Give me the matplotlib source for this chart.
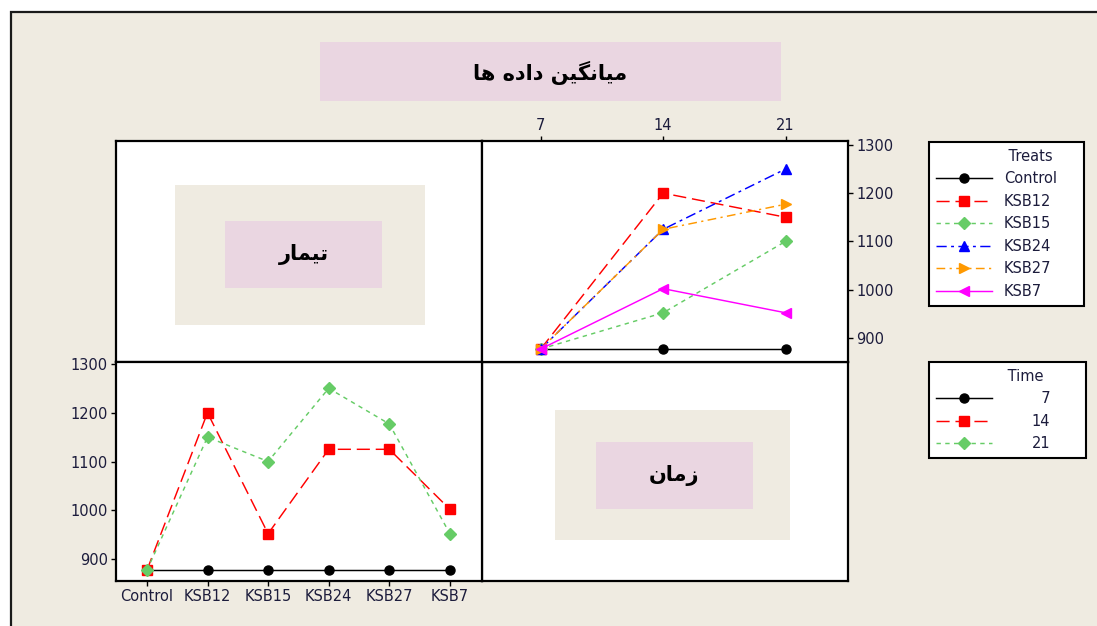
import matplotlib
matplotlib.use('Agg')
import matplotlib.pyplot as plt
from matplotlib.patches import Rectangle

W, H = 1097, 626

# ---------------- data ----------------
treats = ['Control', 'KSB12', 'KSB15', 'KSB24', 'KSB27', 'KSB7']
times = ['7', '14', '21']
mean_t7 = [877, 877, 877, 877, 877, 877]
mean_t14 = [877, 1200, 952, 1125, 1125, 1002]
mean_t21 = [877, 1150, 1100, 1250, 1177, 952]
y_ticks = [900, 1000, 1100, 1200, 1300]

title_fa = 'میانگین داده ها'
treat_fa = 'تیمار'
time_fa = 'زمان'
treat_legend_title = 'Treats'
time_legend_title = 'Time'

# ---------------- styles ----------------
BEIGE = '#EFEBE1'
PINK = '#EAD6E1'
TICKC = '#1c1c3c'
LW = 1.05
treat_style = {
    'Control': dict(color='black', marker='o', ls='-', ms=6.5),
    'KSB12': dict(color='#FF0000', marker='s', ls=(0, (9, 4)), ms=6.5),
    'KSB15': dict(color='#66CC66', marker='D', ls=(0, (3, 3)), ms=6.5),
    'KSB24': dict(color='#0000FF', marker='^', ls=(0, (7, 3, 2, 3)), ms=7.5),
    'KSB27': dict(color='#FF9900', marker='>', ls=(0, (6, 3, 1.5, 3)), ms=7.5),
    'KSB7': dict(color='#FF00FF', marker='<', ls='-', ms=7.5),
}
time_style = {
    '7': dict(color='black', marker='o', ls='-', ms=6.5),
    '14': dict(color='#FF0000', marker='s', ls=(0, (9, 4)), ms=6.5),
    '21': dict(color='#66CC66', marker='D', ls=(0, (3, 3)), ms=6.5),
}

# ---------------- simple Persian shaping (presentation forms) ----------------
FORMS = {
    'م': ('\uFEE1', '\uFEE2', '\uFEE3', '\uFEE4'),
    'ی': ('\uFEEF', '\uFEF0', '\uFEF3', '\uFEF4'),
    'ن': ('\uFEE5', '\uFEE6', '\uFEE7', '\uFEE8'),
    'گ': ('\uFB92', '\uFB93', '\uFB94', '\uFB95'),
    'ه': ('\uFEE9', '\uFEEA', '\uFEEB', '\uFEEC'),
    'ت': ('\uFE95', '\uFE96', '\uFE97', '\uFE98'),
    'ا': ('\uFE8D', '\uFE8E'),
    'د': ('\uFEA9', '\uFEAA'),
    'ر': ('\uFEAD', '\uFEAE'),
    'ز': ('\uFEAF', '\uFEB0'),
}


def shape(text):
    out = []
    for i, ch in enumerate(text):
        if ch not in FORMS:
            out.append(ch)
            continue
        f = FORMS[ch]
        prev = text[i - 1] if i > 0 else ''
        nxt = text[i + 1] if i + 1 < len(text) else ''
        jp = prev in FORMS and len(FORMS[prev]) == 4
        jn = len(f) == 4 and nxt in FORMS
        if jp and jn:
            out.append(f[3])
        elif jp:
            out.append(f[1])
        elif jn:
            out.append(f[2])
        else:
            out.append(f[0])
    return ''.join(out)[::-1]


def fx(x):
    return x / W


def fy(y):
    return 1 - y / H


def box(x0, y0, x1, y1):
    return [fx(x0), fy(y1), (x1 - x0) / W, (y1 - y0) / H]


def frect(x0, y0, x1, y1, color, z):
    fig.add_artist(Rectangle((fx(x0), fy(y1)), (x1 - x0) / W, (y1 - y0) / H,
                             transform=fig.transFigure, facecolor=color, edgecolor='none', zorder=z))


fig = plt.figure(figsize=(W / 100, H / 100), dpi=100, facecolor='white')

# outer beige frame
fig.add_artist(Rectangle((fx(10.5), -0.2), 1.5, fy(11.5) + 0.2, transform=fig.transFigure,
                         facecolor=BEIGE, edgecolor='#1a1a1a', lw=1.6, zorder=0))

# title box
frect(320, 42, 781, 101, PINK, 1)
fig.text(fx(550), fy(73), shape(title_fa), ha='center', va='center', fontsize=15,
         fontweight='bold', family='DejaVu Sans', zorder=2)

L, M, R = 116, 482, 848
T, C, B = 141, 362, 581

# diagonal label panels
for (x0, y0, x1, y1), (gx0, gy0, gx1, gy1), (bx0, by0, bx1, by1), lab in [
        ((L, T, M, C), (175, 185, 425, 325), (225, 221, 382, 288), treat_fa),
        ((M, C, R, B), (555, 410, 790, 540), (596, 442, 753, 509), time_fa)]:
    ax = fig.add_axes(box(x0, y0, x1, y1))
    ax.set_facecolor('white')
    ax.set_xticks([])
    ax.set_yticks([])
    for s in ax.spines.values():
        s.set_linewidth(1.6)
    frect(gx0, gy0, gx1, gy1, BEIGE, 3)
    frect(bx0, by0, bx1, by1, PINK, 4)
    fig.text(fx((bx0 + bx1) / 2), fy((by0 + by1) / 2), shape(lab), ha='center', va='center',
             fontsize=15, fontweight='bold', family='DejaVu Sans', zorder=5)

# top-right: x = time, lines = treatments
ax_tr = fig.add_axes(box(M, T, R, C))
xt = list(range(len(times)))
for i, t in enumerate(treats):
    st = treat_style[t]
    ax_tr.plot(xt, [mean_t7[i], mean_t14[i], mean_t21[i]], color=st['color'], marker=st['marker'],
               ls=st['ls'], ms=st['ms'], lw=LW, label=t)
ax_tr.set_xlim(-0.48, 2.51)
ax_tr.set_ylim(850, 1308)
ax_tr.xaxis.tick_top()
ax_tr.yaxis.tick_right()
ax_tr.set_xticks(xt, times)
ax_tr.set_yticks(y_ticks)

# bottom-left: x = treatments, lines = time
ax_bl = fig.add_axes(box(L, C, M, B))
xb = list(range(len(treats)))
for lab, vals in zip(times, [mean_t7, mean_t14, mean_t21]):
    st = time_style[lab]
    ax_bl.plot(xb, vals, color=st['color'], marker=st['marker'], ls=st['ls'], ms=st['ms'],
               lw=LW, label=lab)
ax_bl.set_xlim(-0.51, 5.53)
ax_bl.set_ylim(855, 1304)
ax_bl.set_xticks(xb, treats)
ax_bl.set_yticks(y_ticks)

for ax in (ax_tr, ax_bl):
    ax.set_facecolor('white')
    for s in ax.spines.values():
        s.set_linewidth(1.6)
    ax.tick_params(direction='out', length=3.8, width=1, labelsize=10.5, labelcolor=TICKC, pad=2.2)

# legends
FS = 10.5
h1, l1 = ax_tr.get_legend_handles_labels()
leg1 = fig.legend(h1, l1, loc='upper left',
                  bbox_to_anchor=(fx(929), fy(142) - 0.01, (1084 - 929) / W, 0.01),
                  mode='expand', borderaxespad=0,
                  title='\u2003\u2003\u2003 ' + treat_legend_title, fontsize=FS, title_fontsize=FS,
                  frameon=True, fancybox=False, edgecolor='black', facecolor='white', framealpha=1,
                  handlelength=3.9, handletextpad=0.8, labelspacing=0.52, borderpad=0.45)
leg1.get_frame().set_linewidth(1.5)
for tx in leg1.get_texts():
    tx.set_color(TICKC)
leg1.get_title().set_color(TICKC)

h2, _ = ax_bl.get_legend_handles_labels()
l2 = ['\u2007' * (2 - len(t)) + t for t in times]
leg2 = fig.legend(h2, l2, loc='upper left',
                  bbox_to_anchor=(fx(929), fy(362) - 0.01, (1086 - 929) / W, 0.01),
                  mode='expand', borderaxespad=0,
                  title='\u2003\u2003\u2002' + time_legend_title, fontsize=FS, title_fontsize=FS,
                  frameon=True, fancybox=False, edgecolor='black', facecolor='white', framealpha=1,
                  handlelength=3.9, handletextpad=2.7, labelspacing=0.52, borderpad=0.45)
leg2.get_frame().set_linewidth(1.5)
for tx in leg2.get_texts():
    tx.set_color(TICKC)
leg2.get_title().set_color(TICKC)

fig.savefig('out.png', dpi=100, facecolor='white')
